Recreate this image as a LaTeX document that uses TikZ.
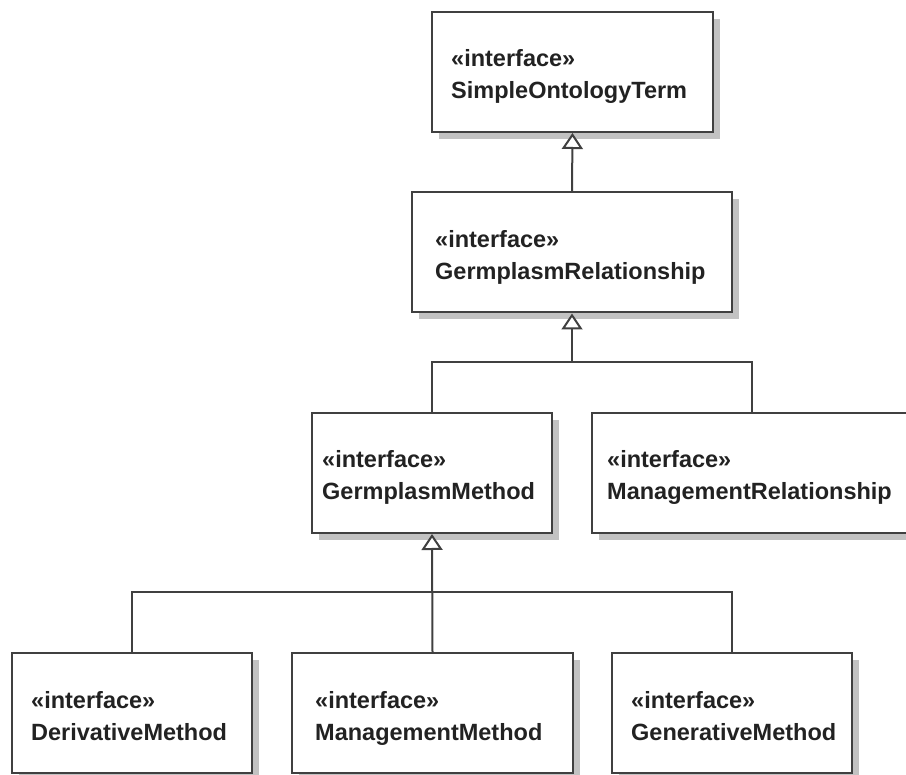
\documentclass[tikz,border=0pt]{standalone}
\usepackage{fontspec}
\setmainfont{Liberation Sans}
\usetikzlibrary{arrows.meta,shadows,calc}

\definecolor{linecol}{HTML}{404040}
\definecolor{textcol}{HTML}{222222}
\definecolor{shadowcol}{HTML}{C2C2C2}

\begin{document}
\begin{tikzpicture}[x=1pt, y=-1pt,
  umlbox/.style={draw=linecol, line width=2pt, fill=white, rectangle,
    minimum height=120pt, inner sep=0pt,
    general shadow={fill=shadowcol, shadow xshift=7pt, shadow yshift=-7pt}},
  boxtext/.style={anchor=base west, inner sep=0pt, text=textcol,
    font=\fontsize{23.5}{28}\selectfont\bfseries},
  link/.style={draw=linecol, line width=2pt, line join=miter},
  inherit/.style={link, -{Triangle[width=21pt, length=16pt, fill=white, line join=miter]}}
]
\useasboundingbox (0,0) rectangle (906,775);
\clip (0,0) rectangle (906,775);

% interface boxes
\node[umlbox, minimum width=281pt] (sot) at (572.5,72) {};
\node[umlbox, minimum width=320pt] (gr)  at (572,252.5) {};
\node[umlbox, minimum width=240pt] (gm)  at (432,473) {};
\node[umlbox, minimum width=320pt] (mr)  at (752,473) {};
\node[umlbox, minimum width=240pt] (dm)  at (132,713) {};
\node[umlbox, minimum width=281pt] (mm)  at (432.5,713) {};
\node[umlbox, minimum width=240pt] (gen) at (732,713) {};

% stereotypes and names
\node[boxtext] (sot-s) at ($(sot.north west)+(20,56)$) {«interface»};
\node[boxtext] (sot-n) at ($(sot.north west)+(20,88)$) {SimpleOntologyTerm};
\node[boxtext] (gr-s)  at ($(gr.north west)+(24,56)$) {«interface»};
\node[boxtext] (gr-n)  at ($(gr.north west)+(24,88)$) {GermplasmRelationship};
\node[boxtext] (gm-s)  at ($(gm.north west)+(11,56)$) {«interface»};
\node[boxtext] (gm-n)  at ($(gm.north west)+(11,88)$) {GermplasmMethod};
\node[boxtext] (mr-s)  at ($(mr.north west)+(16,56)$) {«interface»};
\node[boxtext] (mr-n)  at ($(mr.north west)+(16,88)$) {ManagementRelationship};
\node[boxtext] (dm-s)  at ($(dm.north west)+(20,56)$) {«interface»};
\node[boxtext] (dm-n)  at ($(dm.north west)+(20,88)$) {DerivativeMethod};
\node[boxtext] (mm-s)  at ($(mm.north west)+(24,56)$) {«interface»};
\node[boxtext] (mm-n)  at ($(mm.north west)+(24,88)$) {ManagementMethod};
\node[boxtext] (gen-s) at ($(gen.north west)+(20,56)$) {«interface»};
\node[boxtext] (gen-n) at ($(gen.north west)+(20,88)$) {GenerativeMethod};

% generalisation links
\coordinate (j1) at (572,362);
\coordinate (j2) at (432,592);

\draw[inherit] (gr.north) -- (sot.south);
\draw[inherit] (gm.north) |- (j1) -- (gr.south);
\draw[link] (mr.north) |- (j1);
\draw[inherit] (mm.north) -- (gm.south);
\draw[link] (dm.north) |- (j2) -| (gen.north);
\end{tikzpicture}
\end{document}
